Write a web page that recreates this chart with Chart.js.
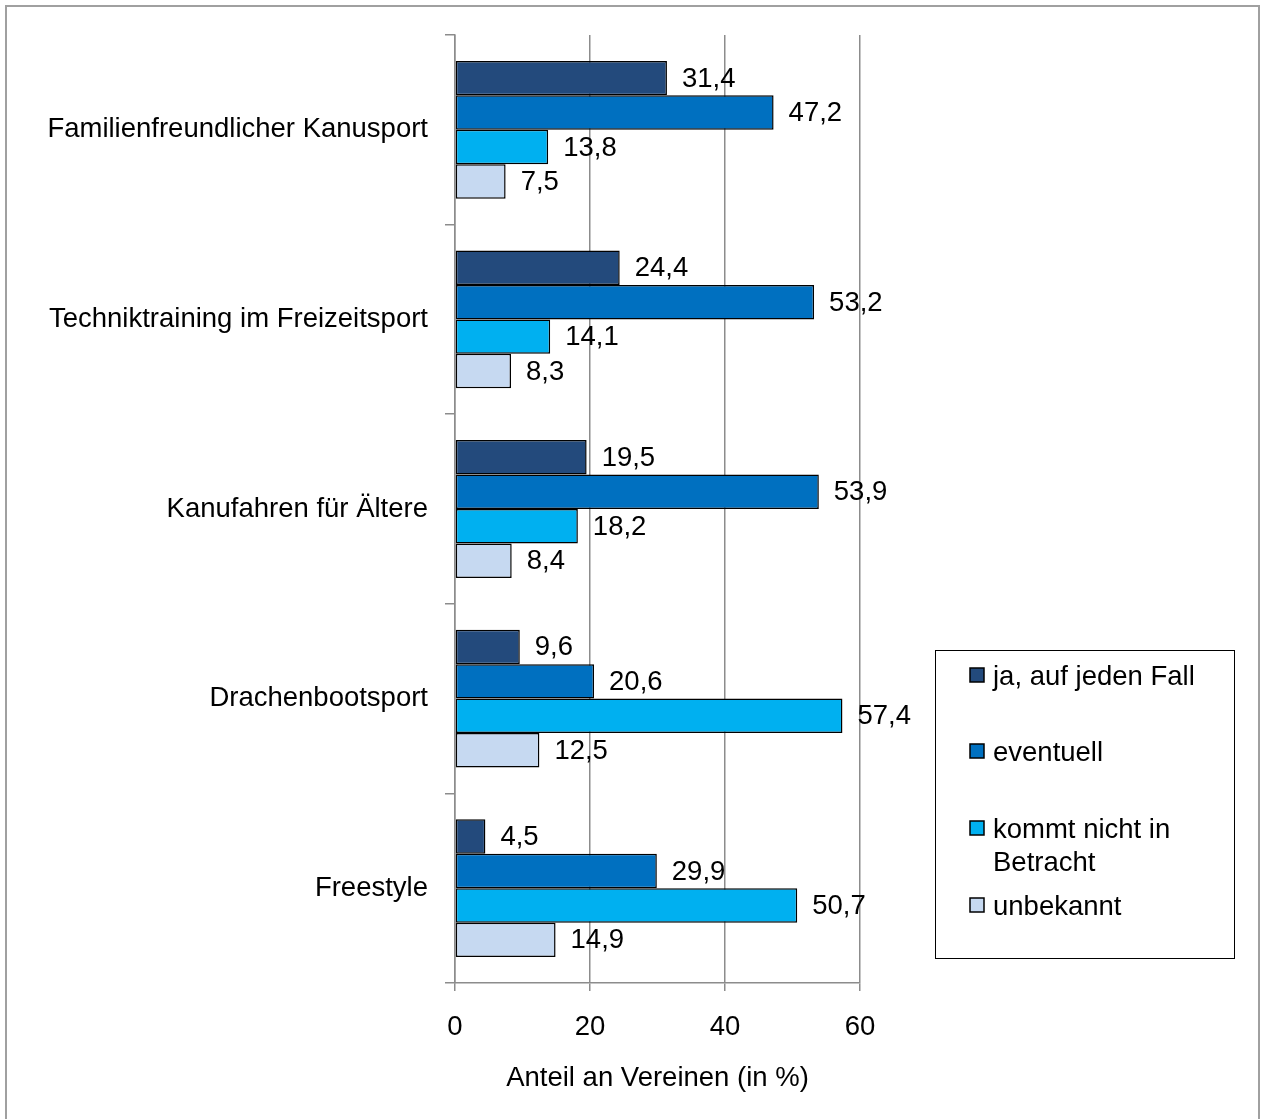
<!DOCTYPE html>
<html>
<head>
<meta charset="utf-8">
<style>
  body { margin: 0; background: #fff; }
  canvas { display: block; }
</style>
<script src="https://cdn.jsdelivr.net/npm/chart.js@4.4.0/dist/chart.umd.min.js"></script>
</head>
<body>
<canvas id="chart" width="1261" height="1119"></canvas>
<script>
const categories = [
  'Familienfreundlicher Kanusport',
  'Techniktraining im Freizeitsport',
  'Kanufahren für Ältere',
  'Drachenbootsport',
  'Freestyle'
];
const seriesNames = ['ja, auf jeden Fall', 'eventuell', 'kommt nicht in Betracht', 'unbekannt'];
const jaValues = [31.4, 24.4, 19.5, 9.6, 4.5];
const eventuellValues = [47.2, 53.2, 53.9, 20.6, 29.9];
const nichtValues = [13.8, 14.1, 18.2, 57.4, 50.7];
const unbekanntValues = [7.5, 8.3, 8.4, 12.5, 14.9];
const xTicks = [0, 20, 40, 60];
const colors = ['#234A7C', '#0070C0', '#00B0F0', '#C6D9F1'];

const FONT = '"Liberation Sans", Arial, sans-serif';
const FSIZE = 27.5;
const gridColor = '#8c8c8c';

// value labels right of each bar, German decimal comma
const valueLabels = {
  id: 'valueLabels',
  afterDatasetsDraw(chart) {
    const ctx = chart.ctx;
    ctx.save();
    ctx.font = FSIZE + 'px ' + FONT;
    ctx.fillStyle = '#000';
    ctx.textAlign = 'left';
    ctx.textBaseline = 'middle';
    chart.data.datasets.forEach((ds, i) => {
      chart.getDatasetMeta(i).data.forEach((bar, j) => {
        const txt = ds.data[j].toFixed(1).replace('.', ',');
        ctx.fillText(txt, bar.x + 15, bar.y + 1);
      });
    });
    ctx.restore();
  }
};

// boxed legend on the right plus the outer frame
const boxLegend = {
  id: 'boxLegend',
  afterDraw(chart) {
    const ctx = chart.ctx;
    ctx.save();
    ctx.strokeStyle = '#a0a0a0';
    ctx.lineWidth = 2;
    ctx.strokeRect(6, 6, 1253, 1125);

    ctx.strokeStyle = '#000';
    ctx.lineWidth = 1;
    ctx.strokeRect(935.5, 650.5, 299, 308);

    const rows = [[676], [752], [829, 862], [906]];
    const lines = [['ja, auf jeden Fall'], ['eventuell'], ['kommt nicht in', 'Betracht'], ['unbekannt']];
    ctx.font = FSIZE + 'px ' + FONT;
    ctx.textBaseline = 'middle';
    ctx.textAlign = 'left';
    chart.data.datasets.forEach((ds, i) => {
      const y = rows[i][0];
      ctx.fillStyle = ds.backgroundColor;
      ctx.fillRect(970, y - 8, 14, 14);
      ctx.strokeStyle = '#000';
      ctx.lineWidth = 1.5;
      ctx.strokeRect(970, y - 8, 14, 14);
      ctx.fillStyle = '#000';
      lines[i].forEach((t, k) => ctx.fillText(t, 993, rows[i][k] + 1));
    });
    ctx.restore();
  }
};

const values = [jaValues, eventuellValues, nichtValues, unbekanntValues];

new Chart(document.getElementById('chart'), {
  type: 'bar',
  data: {
    labels: categories,
    datasets: seriesNames.map((name, i) => ({
      label: name,
      data: values[i],
      backgroundColor: colors[i],
      borderColor: '#000',
      borderWidth: 1.5,
      borderSkipped: false,
      barPercentage: 1,
      categoryPercentage: 0.727
    }))
  },
  options: {
    indexAxis: 'y',
    responsive: false,
    animation: false,
    layout: { padding: { top: 35, right: 401, bottom: 0, left: 0 } },
    plugins: {
      legend: { display: false },
      tooltip: { enabled: false }
    },
    scales: {
      x: {
        min: 0,
        max: 60,
        afterBuildTicks(scale) {
          scale.ticks = xTicks.map(v => ({ value: v }));
        },
        afterFit(scale) { scale.height = 136; },
        grid: { color: gridColor, lineWidth: 1.5, tickLength: 8 },
        border: { color: gridColor, width: 1.5 },
        ticks: { color: '#000', font: { family: FONT, size: FSIZE }, padding: 20, maxRotation: 0 },
        title: {
          display: true,
          text: 'Anteil an Vereinen (in %)',
          color: '#000',
          font: { family: FONT, size: FSIZE },
          padding: { top: 0, bottom: 24 }
        }
      },
      y: {
        afterFit(scale) { scale.width = 455; },
        grid: { offset: true, drawOnChartArea: false, color: gridColor, lineWidth: 1.5, tickLength: 10 },
        border: { color: gridColor, width: 1.5 },
        ticks: { color: '#000', font: { family: FONT, size: FSIZE }, padding: 17 }
      }
    }
  },
  plugins: [valueLabels, boxLegend]
});
</script>
</body>
</html>
